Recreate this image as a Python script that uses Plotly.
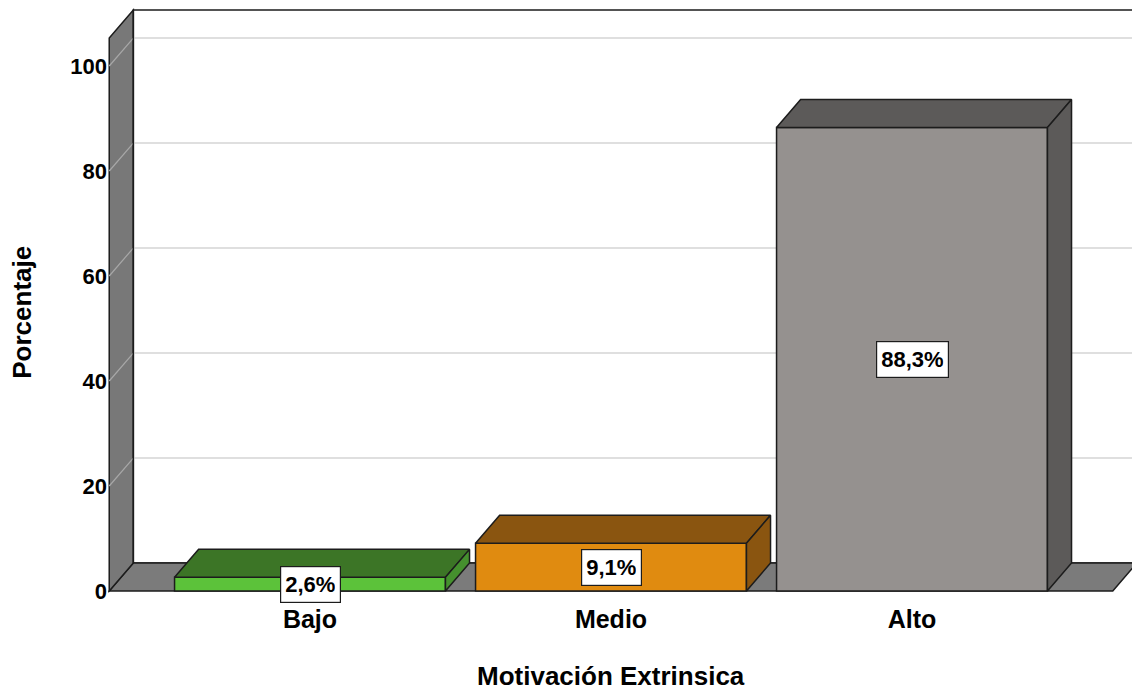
import plotly.graph_objects as go

# Data
categories = ["Bajo", "Medio", "Alto"]
percentages = [2.6, 9.1, 88.3]
value_labels = ["2,6%", "9,1%", "88,3%"]
y_ticks = [0, 20, 40, 60, 80, 100]

# Styling
front_colors = ["#5cc23a", "#e08b10", "#95918f"]
top_colors = ["#3c7526", "#8a5510", "#5c5a59"]
side_colors = ["#45902e", "#8a5510", "#5c5a59"]
edge = "#1c1c1c"
wall_color = "#787878"
floor_color = "#7b7b7b"
grid_back = "#d4d4d4"
grid_side = "#a8a8a8"
FONT = "Liberation Sans, Arial, sans-serif"

# 3D geometry (axis units): depth offset of the back plane
DX, DY = 0.08, 5.33
BAR_W = 0.9
X_LO, X_HI = -0.667, 2.667
WALL_TOP = 105.33

xs = list(range(len(categories)))

fig = go.Figure()

shapes = []
# back wall
shapes.append(dict(type="path", layer="below",
                   path=f"M{X_LO+DX},{DY} L{X_LO+DX},{WALL_TOP+DY} L{X_HI+DX},{WALL_TOP+DY} L{X_HI+DX},{DY} Z",
                   fillcolor="white", line=dict(color=edge, width=1.5)))
# floor
shapes.append(dict(type="path", layer="below",
                   path=f"M{X_LO},0 L{X_HI},0 L{X_HI+DX},{DY} L{X_LO+DX},{DY} Z",
                   fillcolor=floor_color, line=dict(color=edge, width=1.5)))
# left wall
shapes.append(dict(type="path", layer="below",
                   path=f"M{X_LO},0 L{X_LO},{WALL_TOP} L{X_LO+DX},{WALL_TOP+DY} L{X_LO+DX},{DY} Z",
                   fillcolor=wall_color, line=dict(color=edge, width=1.5)))
# gridlines on back wall and left wall
for t in y_ticks[1:]:
    shapes.append(dict(type="line", layer="below", x0=X_LO+DX, x1=X_HI+DX, y0=t+DY, y1=t+DY,
                       line=dict(color=grid_back, width=1.5)))
    shapes.append(dict(type="line", layer="below", x0=X_LO, x1=X_LO+DX, y0=t, y1=t+DY,
                       line=dict(color=grid_side, width=1.2)))
# re-stroke the inner wall edge over the gridlines
shapes.append(dict(type="line", layer="below", x0=X_LO+DX, x1=X_LO+DX, y0=DY, y1=WALL_TOP+DY,
                   line=dict(color=edge, width=1.5)))

# front faces of the bars
fig.add_trace(go.Bar(x=xs, y=percentages, width=BAR_W,
                     marker=dict(color=front_colors, line=dict(color=edge, width=1.5)),
                     hoverinfo="skip", showlegend=False))

# top and side faces
for x, v, ct, cs in zip(xs, percentages, top_colors, side_colors):
    l, r = x - BAR_W / 2, x + BAR_W / 2
    fig.add_trace(go.Scatter(x=[l, r, r + DX, l + DX, l], y=[v, v, v + DY, v + DY, v],
                             mode="lines", fill="toself", fillcolor=ct,
                             line=dict(color=edge, width=1.5), hoverinfo="skip", showlegend=False))
    fig.add_trace(go.Scatter(x=[r, r + DX, r + DX, r, r], y=[0, DY, v + DY, v, 0],
                             mode="lines", fill="toself", fillcolor=cs,
                             line=dict(color=edge, width=1.5), hoverinfo="skip", showlegend=False))

annotations = []
for x, v, lab in zip(xs, percentages, value_labels):
    annotations.append(dict(x=x, y=v / 2, xref="x", yref="y", text=lab, showarrow=False,
                            font=dict(family=FONT, size=22, color="black", weight="bold"),
                            height=27, valign="middle",
                            bgcolor="white", bordercolor=edge, borderwidth=1.2, borderpad=4))

annotations.append(dict(x=1, y=-0.0, xref="x", yref="paper", yshift=-83, text="Motivación Extrinsica",
                        showarrow=False, yanchor="middle",
                        font=dict(family=FONT, size=26, color="black", weight="bold")))
annotations.append(dict(x=0, xref="paper", xshift=-86, y=53, yref="y", text="Porcentaje",
                        showarrow=False, textangle=-90, xanchor="center",
                        font=dict(family=FONT, size=26, color="black", weight="bold")))

fig.update_layout(
    width=1132, height=690,
    margin=dict(l=108, r=0, t=8, b=97),
    plot_bgcolor="white", paper_bgcolor="white",
    shapes=shapes, annotations=annotations,
    xaxis=dict(range=[-0.6711, 2.7309], tickvals=xs, ticktext=categories,
               showgrid=False, zeroline=False, showline=False, ticks="",
               ticklabelstandoff=9,
               tickfont=dict(family=FONT, size=25, color="black", weight="bold")),
    yaxis=dict(range=[-0.381, 111.048], tickvals=y_ticks, ticktext=[str(t) for t in y_ticks],
               showgrid=False, zeroline=False, showline=False, ticks="",
               tickfont=dict(family=FONT, size=22, color="black", weight="bold")),
)

fig.write_html("out.html")
